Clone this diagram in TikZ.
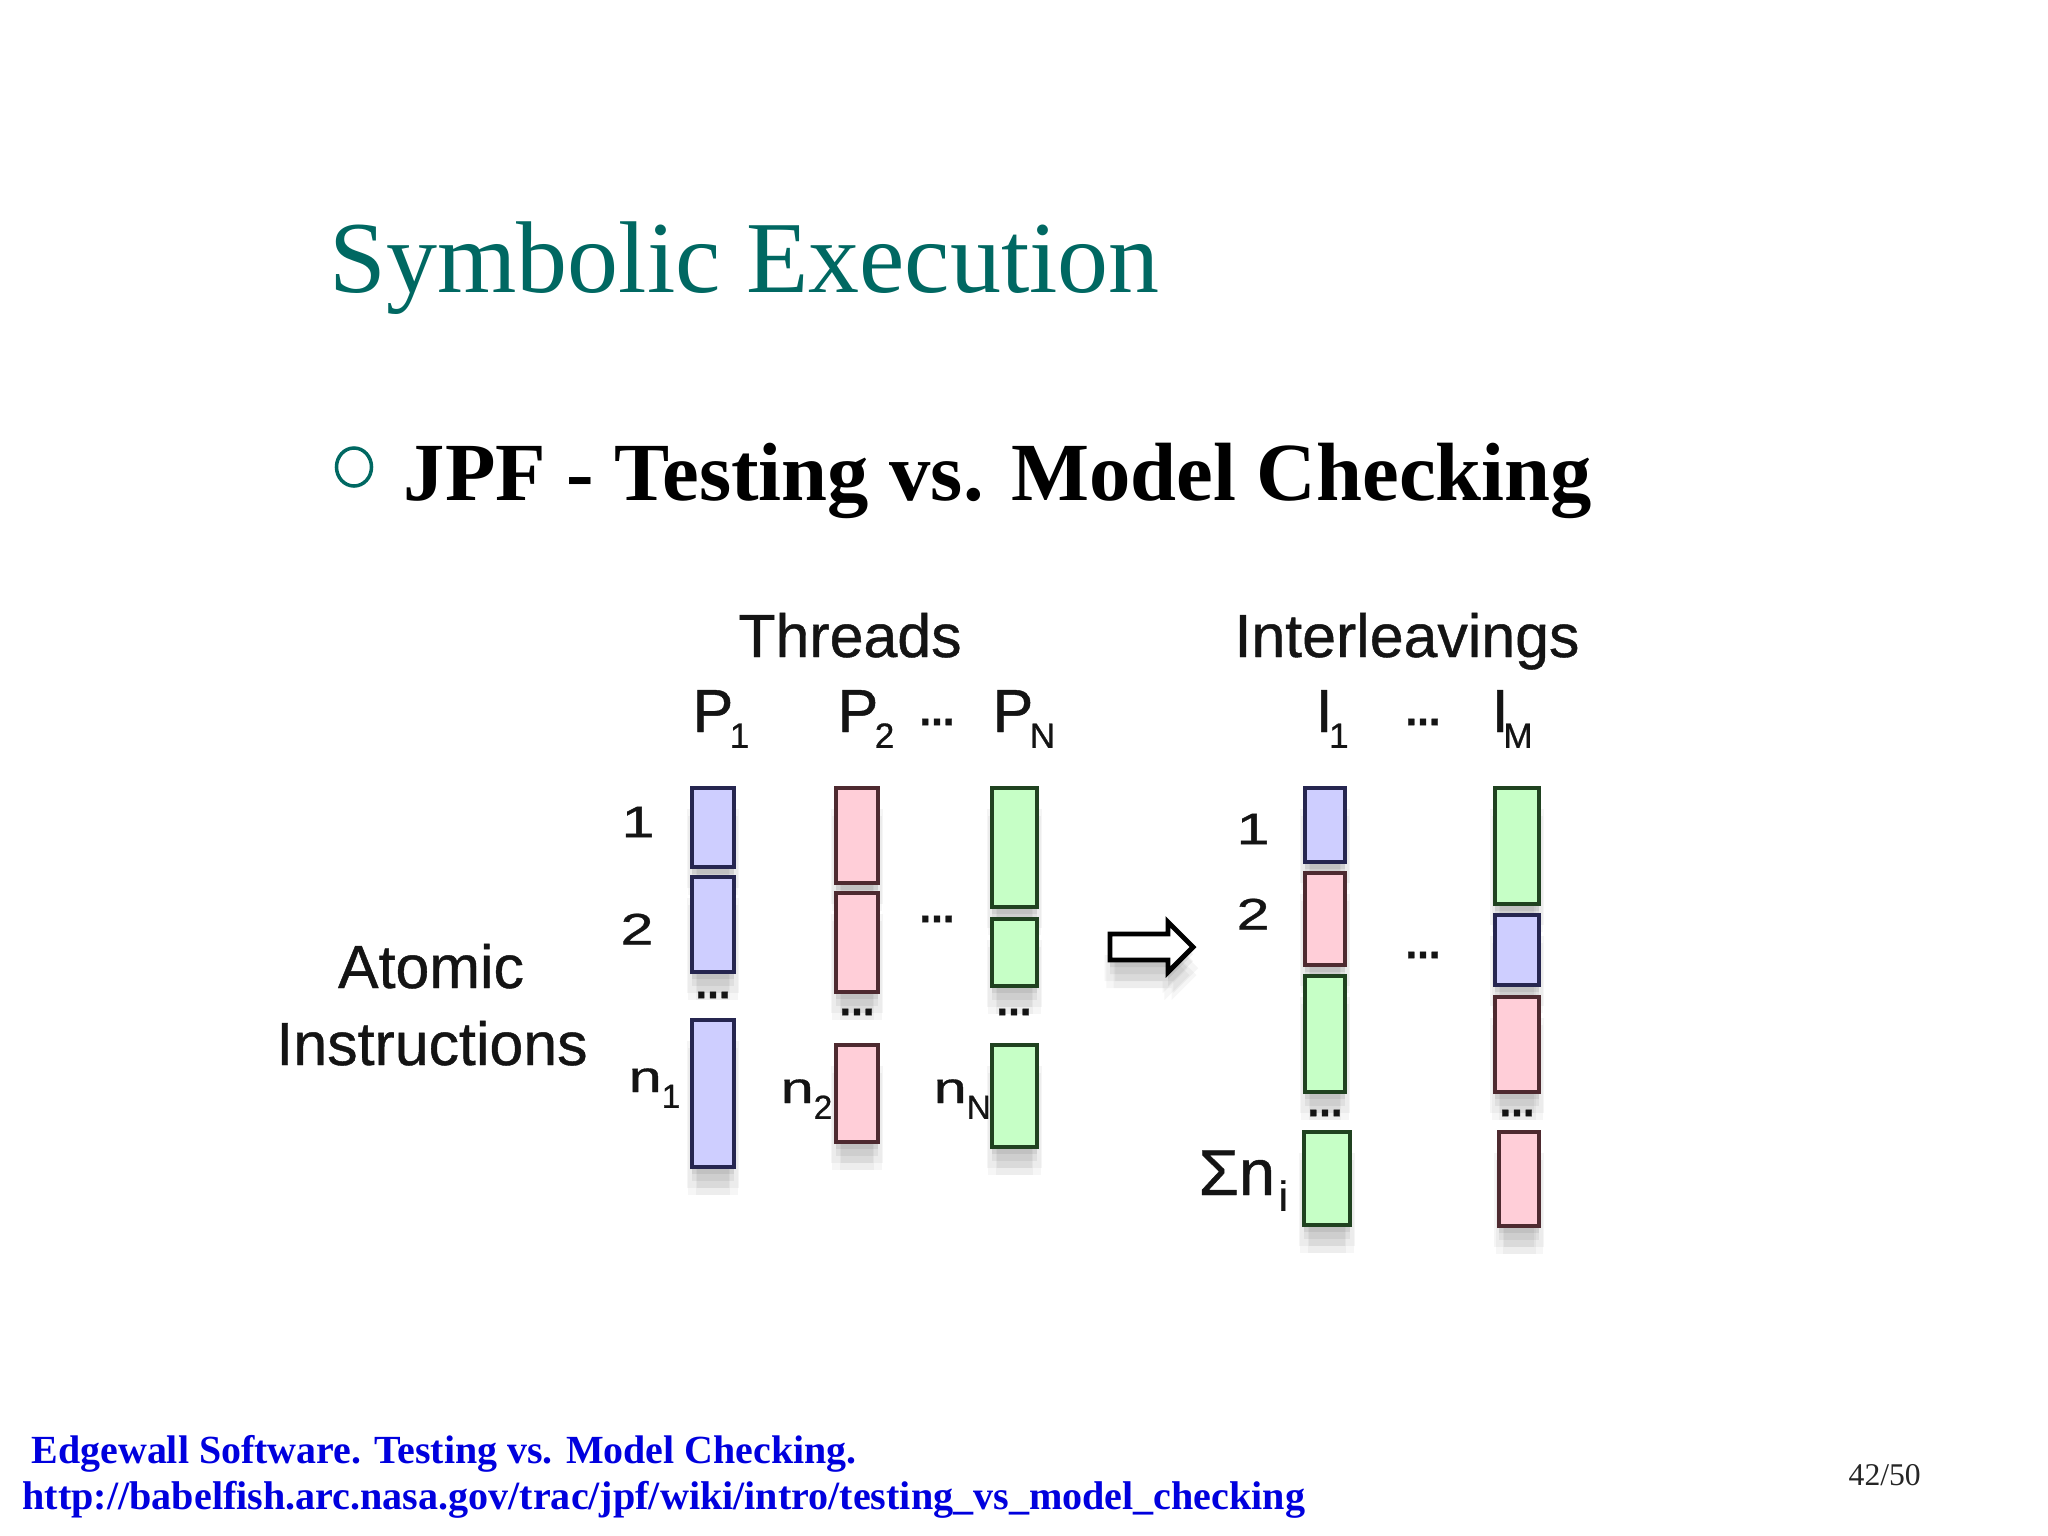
\documentclass[tikz,border=0pt]{standalone}
\usepackage{fontspec}
\usepackage{graphicx}
\setmainfont{Liberation Serif}
\newfontfamily\helv[FakeBold=0.7]{Liberation Sans}
\usetikzlibrary{shadows}

\definecolor{slideteal}{RGB}{0,104,98}
\definecolor{linkblue}{RGB}{0,0,222}
\definecolor{fillblu}{RGB}{206,206,255}
\definecolor{fillpnk}{RGB}{255,206,216}
\definecolor{fillgrn}{RGB}{198,255,198}
\definecolor{edgeblu}{RGB}{38,38,80}
\definecolor{edgepnk}{RGB}{78,42,48}
\definecolor{edggrn}{RGB}{32,66,32}

\newcommand\lowsub[2][10]{\raisebox{-4.5pt}{\fontsize{#1}{12}\selectfont #2}}
\newcommand\wide[1]{\scalebox{1.35}[1]{#1}}

\begin{document}
\begin{tikzpicture}[x=0.01cm,y=-0.01cm,
  lbl/.style={font=\helv\fontsize{17.3}{20}\selectfont,text=black!92,inner sep=0pt},
  num/.style={font=\helv\fontsize{12.5}{15}\selectfont,text=black!92,inner sep=0pt},
  elide/.style={font=\helv\bfseries\fontsize{12}{14}\selectfont,text=black!92,inner sep=0pt},
  instr/.style={line width=1.3pt,
    general shadow={fill=black,opacity=.035,shadow yshift=-8pt,shadow xshift=1pt},
    general shadow={fill=black,opacity=.035,shadow yshift=-8pt,shadow xshift=-1pt},
    general shadow={fill=black,opacity=.04,shadow yshift=-6pt,shadow xshift=1.5pt},
    general shadow={fill=black,opacity=.04,shadow yshift=-6pt,shadow xshift=-1.5pt},
    general shadow={fill=black,opacity=.05,shadow yshift=-4pt},
    general shadow={fill=black,opacity=.06,shadow yshift=-2pt}},
  blubar/.style={instr,fill=fillblu,draw=edgeblu},
  pnkbar/.style={instr,fill=fillpnk,draw=edgepnk},
  grnbar/.style={instr,fill=fillgrn,draw=edggrn}]
  \useasboundingbox[fill=white] (0,0) rectangle (2048,1536);
  % slide title
  \node[anchor=base west,inner sep=0pt,text=slideteal,font=\fontsize{29}{34}\selectfont] (title) at (329,292) {Symbolic Execution};
  \draw[slideteal,line width=1pt] (354,467) ellipse [x radius=0.175cm,y radius=0.19cm];
  \node[anchor=base west,inner sep=0pt,font=\bfseries\fontsize{23.5}{28}\selectfont] (subtitle) at (403,500) {JPF - Testing vs. Model Checking};
  % headings
  \node[lbl,anchor=base] (threads) at (850,657) {Threads};
  \node[lbl,anchor=base] (interl) at (1407,657) {Interleavings};
  \node[lbl,anchor=base west] (p1) at (692,732) {P\kern-1pt\lowsub{1}};
  \node[lbl,anchor=base west] (p2) at (837,732) {P\kern-1pt\lowsub{2}};
  \node[lbl,anchor=base west] (pn) at (992,732) {P\kern-1pt\lowsub{N}};
  \node[elide] (pdots) at (937,722) {...};
  \node[lbl,anchor=base west] (i1) at (1315,732) {I\kern-1pt\lowsub{1}};
  \node[lbl,anchor=base west] (im) at (1491,732) {I\kern-1.5pt\lowsub{M}};
  \node[elide] (idots) at (1423,722) {...};
  \node[lbl,anchor=base] (atomic) at (431,988) {Atomic};
  \node[lbl,anchor=base] (instrs) at (432,1065) {Instructions};
  % row labels
  \node[num] (r1) at (638,822) {\wide{1}};
  \node[num] (r2) at (637,929) {\wide{2}};
  \node[num,anchor=base west] (n1) at (628,1092) {\wide{n}\lowsub[9.5]{1}};
  \node[num,anchor=base west] (n2) at (780,1103) {\wide{n}\lowsub[9.5]{2}};
  \node[num,anchor=base west] (nn) at (933,1103) {\wide{n}\lowsub[9.5]{N}};
  \node[num] (s1) at (1253,829) {\wide{1}};
  \node[num] (s2) at (1253,914) {\wide{2}};
  \node[anchor=base west,inner sep=0pt,text=black!92,font=\helv\fontsize{18.5}{22}\selectfont] (sum) at (1198,1195) {Σn\kern1pt\lowsub[12]{i}};
  % thread P1
  \draw[blubar] (692,788) rectangle (734,867);
  \draw[blubar] (692,877) rectangle (734,972);
  \draw[blubar] (692,1020) rectangle (734,1167);
  \node[elide] (d1) at (713,995) {...};
  % thread P2
  \draw[pnkbar] (836,788) rectangle (878,883);
  \draw[pnkbar] (836,893) rectangle (878,992);
  \draw[pnkbar] (836,1045) rectangle (878,1142);
  \node[elide] (d2) at (857,1012) {...};
  % thread PN
  \draw[grnbar] (992,788) rectangle (1037,907);
  \draw[grnbar] (992,919) rectangle (1037,986);
  \draw[grnbar] (992,1045) rectangle (1037,1147);
  \node[elide] (d3) at (1014,1012) {...};
  \node[elide] (dmid) at (937,919) {...};
  % arrow
  \draw[instr,fill=white,line width=1.4pt,line join=miter] (1110,934)--(1168,934)--(1168,922)--(1193,947)--(1168,972)--(1168,960)--(1110,960)--cycle;
  % interleaving I1
  \draw[blubar] (1305,788) rectangle (1345,862);
  \draw[pnkbar] (1305,873) rectangle (1345,965);
  \draw[grnbar] (1305,976) rectangle (1345,1092);
  \draw[grnbar] (1304,1132) rectangle (1350,1225);
  \node[elide] (d4) at (1325,1113) {...};
  % interleaving IM
  \draw[grnbar] (1495,788) rectangle (1539,904);
  \draw[blubar] (1495,915) rectangle (1539,985);
  \draw[pnkbar] (1495,997) rectangle (1539,1092);
  \draw[pnkbar] (1499,1132) rectangle (1539,1226);
  \node[elide] (d5) at (1517,1113) {...};
  \node[elide] (imid) at (1423,955) {...};
  % footer
  \node[anchor=base west,inner sep=0pt,text=linkblue,font=\bfseries\fontsize{11.35}{13}\selectfont] (ref1) at (31,1463) {Edgewall Software. Testing vs. Model Checking.};
  \node[anchor=base west,inner sep=0pt,text=linkblue,font=\bfseries\fontsize{11.4}{13}\selectfont] (ref2) at (22,1509) {http://babelfish.arc.nasa.gov/trac/jpf/wiki/intro/testing\_vs\_model\_checking};
  \node[anchor=base west,inner sep=0pt,text=black!85,font=\fontsize{9}{11}\selectfont] (page) at (1848,1485) {42/50};
\end{tikzpicture}
\end{document}
